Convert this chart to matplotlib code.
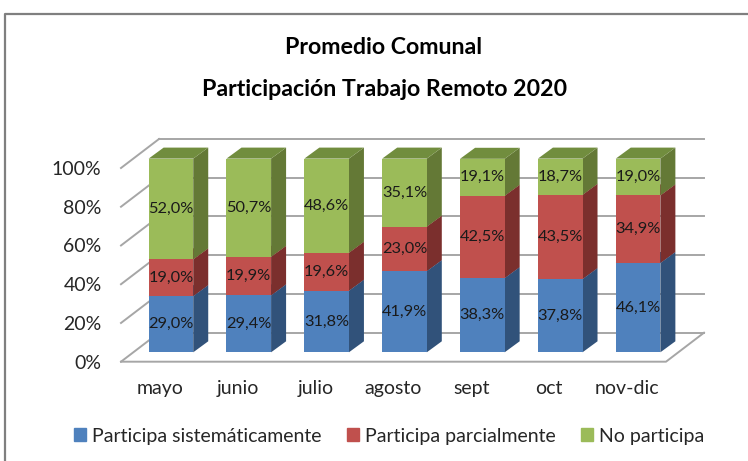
import numpy as np
import matplotlib
matplotlib.use("Agg")
import matplotlib.pyplot as plt
from matplotlib.lines import Line2D
from matplotlib.patches import Patch, Polygon

plt.rcParams["font.family"] = ["Lato", "DejaVu Sans"]

# data
meses = ["mayo", "junio", "julio", "agosto", "sept", "oct", "nov-dic"]
sistematica = [29.0, 29.4, 31.8, 41.9, 38.3, 37.8, 46.1]
parcial = [19.0, 19.9, 19.6, 23.0, 42.5, 43.5, 34.9]
no_participa = [52.0, 50.7, 48.6, 35.1, 19.1, 18.7, 19.0]
series_names = ["Participa sistemáticamente", "Participa parcialmente", "No participa"]
y_ticks = [0, 20, 40, 60, 80, 100]

front_colors = ["#4F81BD", "#C0504D", "#9BBB59"]
side_colors = ["#31527A", "#7B2F2D", "#647936"]
top_colors = ["#3B6296", "#97403D", "#718D3E"]

W, H = 748, 461
fig = plt.figure(figsize=(W / 100, H / 100), dpi=100, facecolor="white")
# axes = front edge of the floor and of the left wall
ax = fig.add_axes([121 / W, 1 - 361.7 / H, 545 / W, 193.7 / H])
ax.set_xlim(-0.5, 6.5)
ax.set_ylim(0, 100)
ax.patch.set_visible(False)
for s in ax.spines.values():
    s.set_visible(False)

px = 7 / 545  # data units per pixel
py = 100 / 193.7

# fake 3d depth of walls and bars
wall_dx, wall_dy = 38 * px, 29 * py
bar_off_x, bar_off_y = 11 * px, 9.4 * py
bar_dx, bar_dy = 15 * px, 11 * py
bar_w = 44.6 * px

# walls
grid_c = "#A6A6A6"
for v in y_ticks:
    ax.plot([-0.5, -0.5 + wall_dx], [v, v + wall_dy], color=grid_c, lw=1.4, clip_on=False, zorder=1)
    ax.plot([-0.5 + wall_dx, 6.5 + wall_dx], [v + wall_dy, v + wall_dy], color=grid_c, lw=1.4,
            clip_on=False, zorder=1)
ax.plot([-0.5, 6.5, 6.5 + wall_dx], [0, 0, wall_dy], color=grid_c, lw=1.4, clip_on=False, zorder=1)

# stacked bars
x = np.arange(len(meses))
series = [sistematica, parcial, no_participa]
bottom = np.zeros(len(meses))
for k, vals in enumerate(series):
    vals = np.array(vals)
    ax.bar(x + bar_off_x, vals, bar_w, bottom=bottom + bar_off_y, color=front_colors[k],
           clip_on=False, zorder=3)
    for i in x:
        x0 = i + bar_off_x + bar_w / 2
        y0 = bottom[i] + bar_off_y
        ax.add_patch(Polygon([(x0, y0), (x0 + bar_dx, y0 + bar_dy), (x0 + bar_dx, y0 + bar_dy + vals[i]),
                              (x0, y0 + vals[i])], color=side_colors[k], lw=0, clip_on=False, zorder=2))
        ytop = y0 + vals[i]
        ax.add_patch(Polygon([(x0 - bar_w, ytop), (x0, ytop), (x0 + bar_dx, ytop + bar_dy),
                              (x0 - bar_w + bar_dx, ytop + bar_dy)], color=top_colors[k], lw=0,
                             clip_on=False, zorder=2))
        ax.text(i + bar_off_x, y0 + vals[i] / 2, f"{vals[i]:.1f}%".replace(".", ","), ha="center",
                va="center", fontsize=11.8, color="#1A1A1A", zorder=4)
    bottom = bottom + vals

# axes
ax.set_xticks(x, meses)
ax.set_yticks(y_ticks, [f"{v}%" for v in y_ticks])
ax.tick_params(axis="both", length=0, labelsize=14, labelcolor="#262626")
ax.tick_params(axis="x", pad=13)
ax.tick_params(axis="y", pad=14)

# title
fig.text(384 / W, 1 - 47.5 / H, "Promedio Comunal", ha="center", va="center", fontsize=16.7, weight="bold", color="black")
fig.text(384.5 / W, 1 - 89 / H, "Participación Trabajo Remoto 2020", ha="center", va="center", fontsize=16.7,
         weight="bold", color="black")

# legend
handles = [Patch(color=c) for c in front_colors]
fig.legend(handles, series_names, ncol=3, loc="center", bbox_to_anchor=(389 / W, 1 - 436 / H), frameon=False,
           fontsize=14, labelcolor="#262626", handlelength=0.62, handleheight=0.62, handletextpad=0.3,
           columnspacing=1.3)

# outer frame, open at the right and at the bottom
frame_c = "#7F7F7F"
fig.add_artist(Line2D([5 / W, 5 / W, 1], [0, 1 - 14 / H, 1 - 14 / H], color=frame_c, lw=1.6))

fig.savefig("out.png", dpi=100)
